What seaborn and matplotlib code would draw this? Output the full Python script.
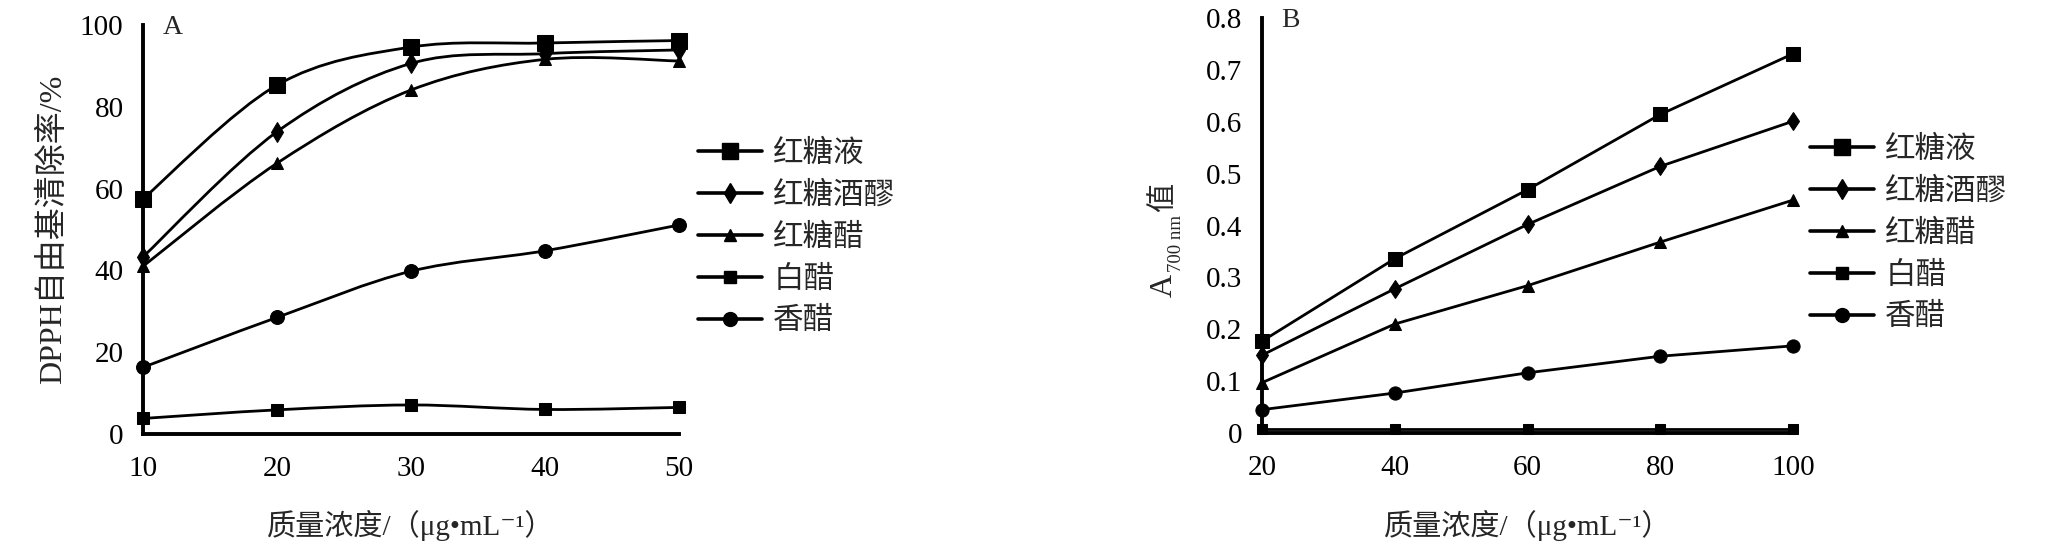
import matplotlib
matplotlib.use('Agg')
import seaborn as sns
from matplotlib import pyplot as plt
from matplotlib.path import Path
from matplotlib.patches import PathPatch
from matplotlib.lines import Line2D

# series (same order in both panels)
series_names = ['红糖液', '红糖酒醪', '红糖醋', '白醋', '香醋']

# panel A: DPPH scavenging rate (%)
conc_a = [10, 20, 30, 40, 50]
dpph_hongtangye = [57.5, 85.3, 94.6, 95.6, 96.2]
dpph_jiulao = [43.3, 73.9, 90.6, 93.0, 93.9]
dpph_hongtangcu = [41.0, 66.2, 84.1, 91.6, 91.2]
dpph_baicu = [3.8, 5.9, 7.1, 6.0, 6.5]
dpph_xiangcu = [16.3, 28.5, 39.8, 44.8, 51.1]

# panel B: reducing power, A700
conc_b = [20, 40, 60, 80, 100]
a700_hongtangye = [0.177, 0.336, 0.469, 0.614, 0.731]
a700_jiulao = [0.150, 0.278, 0.402, 0.514, 0.601]
a700_hongtangcu = [0.097, 0.210, 0.284, 0.368, 0.449]
a700_baicu = [0.007, 0.007, 0.007, 0.007, 0.007]
a700_xiangcu = [0.045, 0.077, 0.116, 0.148, 0.168]

yticks_a = [0, 20, 40, 60, 80, 100]
yticks_b = [0, 0.1, 0.2, 0.3, 0.4, 0.5, 0.6, 0.7, 0.8]
yticklabels_b = ['0', '0.1', '0.2', '0.3', '0.4', '0.5', '0.6', '0.7', '0.8']

xlabel = '质量浓度/（μg•mL⁻¹）'

# marker style per series: (marker, size in A, size in B)
markers = [('s', 11, 10.5), ('d', 10, 9.5), ('^', 8, 8), ('s', 9, 6.5), ('o', 10, 9.5)]
LW = 2.0

sns.set_style('white')
plt.rcParams['font.family'] = ['Liberation Serif', 'Noto Sans CJK SC', 'DejaVu Sans']
plt.rcParams['axes.unicode_minus'] = False


def smooth_path(xs, ys):
    """Catmull-Rom style bezier through the points (like a spreadsheet smoothed line)"""
    pts = list(zip(xs, ys))
    n = len(pts)
    verts = [pts[0]]
    codes = [Path.MOVETO]
    for i in range(n - 1):
        p0 = pts[i - 1] if i > 0 else pts[i]
        p1 = pts[i]
        p2 = pts[i + 1]
        p3 = pts[i + 2] if i + 2 < n else pts[i + 1]
        c1 = (p1[0] + (p2[0] - p0[0]) / 6, p1[1] + (p2[1] - p0[1]) / 6)
        c2 = (p2[0] - (p3[0] - p1[0]) / 6, p2[1] - (p3[1] - p1[1]) / 6)
        verts += [c1, c2, p2]
        codes += [Path.CURVE4] * 3
    return Path(verts, codes)


def style_axes(ax):
    sns.despine(ax=ax)
    for s in ['left', 'bottom']:
        ax.spines[s].set_linewidth(2.8)
        ax.spines[s].set_color('black')
    ax.tick_params(direction='in', length=4, width=2.5, labelsize=21,
                   colors='black')
    ax.tick_params(axis='y', pad=14)
    ax.tick_params(axis='x', pad=16)
    ax.set_facecolor('white')


def add_legend(fig, x, y):
    handles = []
    for name, (m, ms, _) in zip(series_names, markers):
        handles.append(Line2D([], [], color='black', lw=2.6, marker=m,
                              markersize=ms, label=name))
    fig.legend(handles=handles, loc='upper left', bbox_to_anchor=(x, y),
               bbox_transform=fig.transFigure, frameon=False, fontsize=22,
               handlelength=2.1, handletextpad=0.36, labelspacing=0.42,
               borderpad=0, borderaxespad=0)


fig = plt.figure(figsize=(20.47, 5.57), dpi=100)
W, H = 2047, 557

# ---- panel A ----
ax1 = fig.add_axes([143 / W, (H - 434) / H, 536 / W, 409 / H])
data_a = [dpph_hongtangye, dpph_jiulao, dpph_hongtangcu, dpph_baicu, dpph_xiangcu]
for vals, (m, ms, _) in zip(data_a, markers):
    ax1.add_patch(PathPatch(smooth_path(conc_a, vals), fill=False,
                            edgecolor='black', lw=LW, clip_on=False))
    sns.lineplot(x=conc_a, y=vals, ax=ax1, color='black', lw=0, marker=m,
                 markersize=ms, markeredgecolor='black', clip_on=False,
                 zorder=3)
ax1.set_xlim(10, 50)
ax1.set_ylim(0, 100)
ax1.set_xticks(conc_a)
ax1.set_yticks(yticks_a)
style_axes(ax1)
ax1.set_ylabel('DPPH自由基清除率/%', fontsize=23)
ax1.yaxis.set_label_coords(-0.14, 0.5)
ax1.set_xlabel(xlabel, fontsize=21)
ax1.xaxis.set_label_coords(0.5, -0.185)
ax1.text(0.056, 0.993, 'A', transform=ax1.transAxes, fontsize=20,
         ha='center', va='center')
add_legend(fig, 698 / W, (H - 140) / H)

# ---- panel B ----
ax2 = fig.add_axes([1262 / W, (H - 433) / H, 531 / W, 415 / H])
data_b = [a700_hongtangye, a700_jiulao, a700_hongtangcu, a700_baicu, a700_xiangcu]
for vals, (m, _, ms) in zip(data_b, markers):
    sns.lineplot(x=conc_b, y=vals, ax=ax2, color='black', lw=LW, marker=m,
                 markersize=ms, markeredgecolor='black', clip_on=False,
                 zorder=3)
ax2.set_xlim(20, 100)
ax2.set_ylim(0, 0.8)
ax2.set_xticks(conc_b)
ax2.set_yticks(yticks_b)
ax2.set_yticklabels(yticklabels_b)
style_axes(ax2)
ax2.set_xlabel(xlabel, fontsize=21)
ax2.xaxis.set_label_coords(0.5, -0.185)
ax2.text(0.053, 0.995, 'B', transform=ax2.transAxes, fontsize=20,
         ha='center', va='center')
# y label: A with subscript "700 nm" then 值, rotated
base = (-0.185, (433 - 297) / 415)
ax2.annotate('A', xy=base, xycoords='axes fraction', xytext=(0, 0),
             textcoords='offset points', rotation=90, fontsize=23,
             ha='center', va='bottom')
ax2.annotate('700 nm', xy=base, xycoords='axes fraction', xytext=(9, 18),
             textcoords='offset points', rotation=90, fontsize=13.5,
             ha='center', va='bottom')
ax2.annotate('值', xy=base, xycoords='axes fraction', xytext=(0, 61),
             textcoords='offset points', rotation=90, fontsize=21,
             ha='center', va='bottom')
add_legend(fig, 1810 / W, (H - 136) / H)

fig.savefig('out.png', dpi=100, facecolor='white')
